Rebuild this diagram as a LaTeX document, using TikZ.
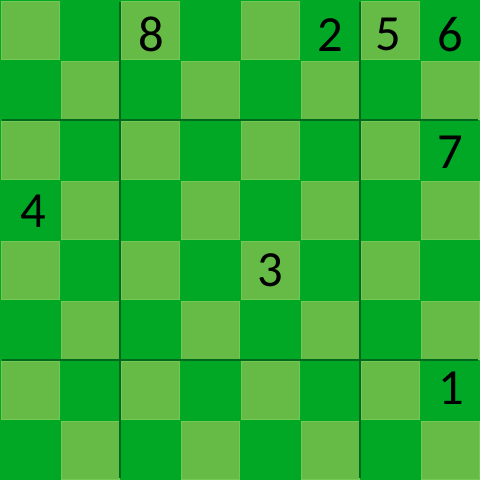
\documentclass[tikz,border=0pt]{standalone}
\usepackage{fontspec}
\setmainfont{Carlito}
\usepackage{xcolor}
\usetikzlibrary{positioning}
\definecolor{boardlight}{RGB}{102,187,70}
\definecolor{boarddark}{RGB}{0,168,38}
\definecolor{cellrim}{RGB}{116,200,84}
\definecolor{splitline}{RGB}{0,105,30}

\begin{document}
\begin{tikzpicture}[
    x=1cm, y=1cm,
    lightcell/.style={fill=boardlight, draw=cellrim, line width=0.3pt},
    split/.style={draw=splitline, line width=0.5pt},
    digit/.style={font=\fontsize{24}{28}\selectfont, text=black, inner sep=0pt}
]
    % board background
    \fill[boarddark] (0,0) rectangle (8,8);
    \useasboundingbox (0,0) rectangle (8,8);

    % light squares, top left is light
    \foreach \r in {0,...,7} {
        \foreach \c in {0,...,7} {
            \pgfmathtruncatemacro{\parity}{mod(\r+\c,2)}
            \ifnum\parity=0
                \draw[lightcell] (\c+0.03,7.97-\r) rectangle (\c+0.99,7.01-\r);
            \fi
        }
    }

    % dividing lines
    \draw[split] (2,0.04) -- (2,7.96);
    \draw[split] (6,0.04) -- (6,7.96);
    \draw[split] (0.04,6) -- (7.96,6);
    \draw[split] (0.04,2) -- (7.96,2);

    % numbers
    \node[digit] (eight) at (2.53,7.42) {8};
    \node[digit] (two) at (5.5,7.42) {2};
    \node[digit] (five) at (6.47,7.42) {5};
    \node[digit] (six) at (7.5,7.42) {6};
    \node[digit] (seven) at (7.5,5.46) {7};
    \node[digit] (four) at (0.55,4.48) {4};
    \node[digit] (three) at (4.5,3.5) {3};
    \node[digit] (one) at (7.53,1.53) {1};
\end{tikzpicture}
\end{document}
